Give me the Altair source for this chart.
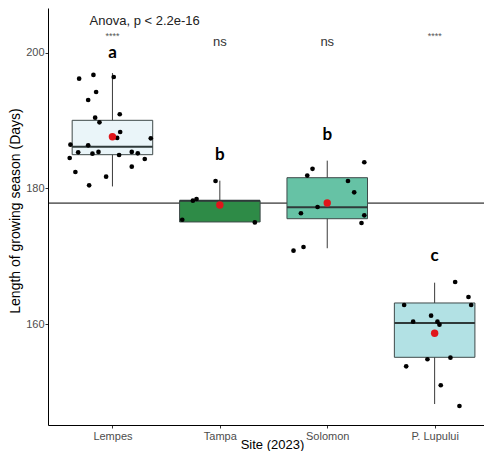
import altair as alt
import pandas as pd

sites = ["Lempes", "Tampa", "Solomon", "P. Lupului"]
fills = ["#EAF5F9", "#2E8B47", "#66C2A5", "#B2E1E4"]

# box statistics
q1 = [184.98, 175.07, 175.55, 155.14]
med = [186.16, 178.2, 177.23, 160.19]
q3 = [190.04, 178.2, 181.59, 163.14]
wlo = [180.3, 175.07, 171.2, 148.26]
whi = [197.0, 181.15, 184.1, 166.13]
means = [187.63, 177.57, 177.86, 158.67]
grand_mean = 177.85

# jittered observations: horizontal offset from the site centre, value
lempes_dx = [-0.31, -0.177, 0.012, -0.152, -0.226, -0.161, -0.121, 0.068, 0.072, 0.044, 0.357, -0.391,
             -0.226, -0.319, -0.186, -0.13, 0.062, 0.18, 0.236, -0.398, 0.301, -0.345, 0.18, -0.059, -0.217]
lempes_y = [196.17, 196.72, 196.42, 194.21, 193.03, 190.43, 189.75, 190.93, 188.32, 187.44, 187.39, 186.45,
            186.36, 185.33, 185.13, 185.38, 184.93, 185.38, 185.18, 184.49, 184.34, 182.43, 183.21, 181.74, 180.47]
tampa_dx = [-0.04, -0.251, -0.217, -0.35, 0.326]
tampa_y = [181.1, 178.2, 178.45, 175.4, 175.0]
solomon_dx = [0.345, -0.137, -0.186, 0.193, 0.251, -0.09, -0.245, 0.345, 0.319, -0.221, -0.314]
solomon_y = [183.86, 182.9, 181.9, 181.1, 179.44, 177.27, 176.35, 176.05, 174.92, 171.38, 170.84]
lupului_dx = [0.191, 0.315, 0.34, -0.284, -0.033, -0.2, 0.026, 0.045, -0.067, 0.147, -0.265, 0.057, 0.231]
lupului_y = [166.23, 164.02, 162.84, 162.84, 161.27, 160.38, 160.38, 159.94, 154.85, 155.08, 153.81, 151.02, 147.97]

letters = ["a", "b", "b", "c"]
letter_y = [199.96, 184.93, 187.88, 170.06]
signif = ["****", "ns", "ns", "****"]
signif_y = [202.45, 201.6, 201.6, 202.45]
anova_label = "Anova, p < 2.2e-16"
anova_pos = [1.3, 204.67]

y_domain = [145.17, 206.58]
x_domain = [0.4, 4.4596]
y_ticks = [160, 180, 200]

FONT = "Liberation Sans"
idx = [1, 2, 3, 4]
hw = 0.375
W, H = 436, 417

boxes = pd.DataFrame({"site": sites, "i": idx, "x1": [i - hw for i in idx], "x2": [i + hw for i in idx],
                      "q1": q1, "med": med, "q3": q3, "lo": wlo, "hi": whi, "mean": means,
                      "letter": letters, "ly": letter_y, "sig": signif, "sy": signif_y})

pts = []
for k, (dxs, ys) in enumerate([(lempes_dx, lempes_y), (tampa_dx, tampa_y),
                                (solomon_dx, solomon_y), (lupului_dx, lupului_y)]):
    for dx, yv in zip(dxs, ys):
        pts.append({"site": sites[k], "x": idx[k] + dx, "y": yv})
pts = pd.DataFrame(pts)

label_arr = "[" + ",".join("'" + s + "'" for s in sites) + "]"

xs = alt.Scale(domain=x_domain, nice=False, zero=False)
ys = alt.Scale(domain=y_domain, nice=False, zero=False)

x_axis = alt.Axis(values=idx, labelExpr=label_arr + "[datum.value-1]", title="Site (2023)",
                  grid=False, tickSize=3, labelPadding=2,
                  titleX=224, titleY=23, titleAlign="center", titleBaseline="alphabetic",
                  labelFont=FONT, labelFontSize=11, labelColor="#4D4D4D",
                  titleFont=FONT, titleFontSize=13, titleFontWeight="normal", titleColor="#000000",
                  domainColor="#000000", tickColor="#333333")
y_axis = alt.Axis(values=y_ticks, title="Length of growing season (Days)",
                  grid=False, tickSize=3, labelPadding=1,
                  titleX=-40, titleY=202.5, titleAlign="center", titleBaseline="top",
                  labelFont=FONT, labelFontSize=11, labelColor="#4D4D4D",
                  titleFont=FONT, titleFontSize=14, titleFontWeight="normal", titleColor="#000000",
                  domainColor="#000000", tickColor="#333333")

base = alt.Chart(boxes)

hline = alt.Chart(pd.DataFrame({"gm": [grand_mean]})).mark_rule(color="#000000", strokeWidth=1).encode(
    y=alt.Y("gm:Q", scale=ys, axis=y_axis),
    x=alt.value(0), x2=alt.value(W))

whisk = base.mark_rule(color="#3A3A3A", strokeWidth=1).encode(
    x=alt.X("i:Q", scale=xs, axis=x_axis), y=alt.Y("lo:Q", scale=ys), y2="hi:Q")

rect = base.mark_rect(stroke="#3F4A4A", strokeWidth=1).encode(
    x=alt.X("x1:Q", scale=xs), x2="x2:Q", y=alt.Y("q1:Q", scale=ys), y2="q3:Q",
    fill=alt.Fill("site:N", scale=alt.Scale(domain=sites, range=fills), legend=None))

median = base.mark_rule(color="#2F3A3A", strokeWidth=2).encode(
    x=alt.X("x1:Q", scale=xs), x2="x2:Q", y=alt.Y("med:Q", scale=ys))

points = alt.Chart(pts).mark_circle(color="#000000", opacity=1, size=22).encode(
    x=alt.X("x:Q", scale=xs), y=alt.Y("y:Q", scale=ys))

meanpt = base.mark_circle(color="#E0161B", opacity=1, size=55).encode(
    x=alt.X("i:Q", scale=xs), y=alt.Y("mean:Q", scale=ys))

let = base.mark_text(font="Lato", fontWeight="bold", fontSize=17, color="#000000", baseline="middle").encode(
    x=alt.X("i:Q", scale=xs), y=alt.Y("ly:Q", scale=ys), text="letter:N")

sig_ns = base.transform_filter("datum.sig == 'ns'").mark_text(
    font=FONT, fontSize=13, color="#333333", baseline="middle").encode(
    x=alt.X("i:Q", scale=xs), y=alt.Y("sy:Q", scale=ys), text="sig:N")

sig_star = base.transform_filter("datum.sig != 'ns'").mark_text(
    font=FONT, fontSize=9, color="#555555", baseline="middle").encode(
    x=alt.X("i:Q", scale=xs), y=alt.Y("sy:Q", scale=ys), text="sig:N")

anova = alt.Chart(pd.DataFrame({"x": [anova_pos[0]], "y": [anova_pos[1]], "t": [anova_label]})).mark_text(
    font=FONT, fontSize=13, color="#222222", baseline="middle").encode(
    x=alt.X("x:Q", scale=xs), y=alt.Y("y:Q", scale=ys), text="t:N")

chart = alt.layer(hline, whisk, rect, median, points, meanpt, let, sig_ns, sig_star, anova).properties(
    width=W, height=H, padding={"left": 40, "top": 0, "right": 0, "bottom": 26},
    autosize=alt.AutoSizeParams(type="none"),
    background="#FFFFFF"
).configure_view(stroke=None)

chart.save("out.html", embed_options={"renderer": "svg", "actions": False})
